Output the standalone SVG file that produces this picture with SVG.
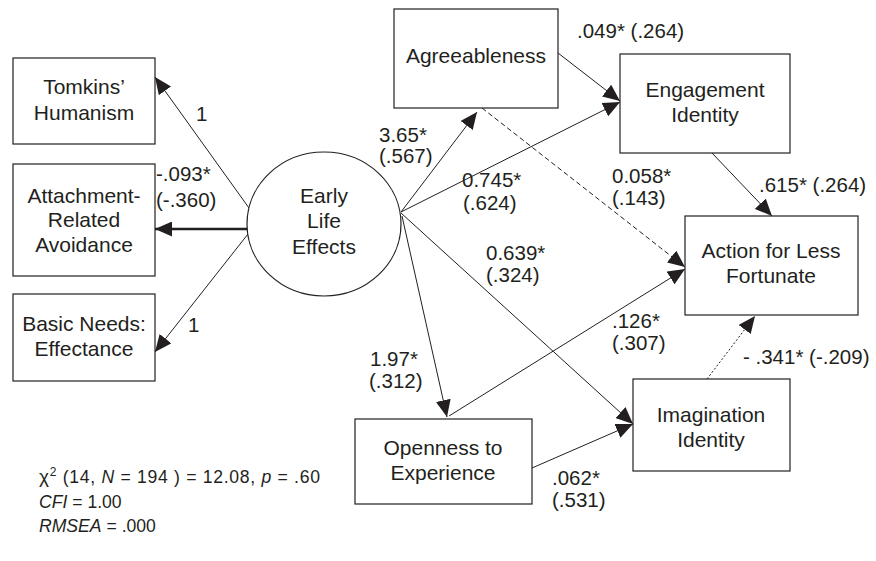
<svg xmlns="http://www.w3.org/2000/svg" width="876" height="561" viewBox="0 0 876 561">
  <style>
    .box { fill: #fff; stroke: #231f20; stroke-width: 1.2; }
    .node-text { font-family: "Liberation Sans", Arial, sans-serif; font-size: 21px; fill: #231f20; text-anchor: middle; }
    .lbl { font-family: "Liberation Sans", Arial, sans-serif; font-size: 20.5px; fill: #231f20; }
    .stat { font-family: "Liberation Sans", Arial, sans-serif; font-size: 17.6px; fill: #231f20; }
    .edge { fill: none; stroke: #231f20; stroke-width: 1; marker-end: url(#arrow); }
    .thick { stroke-width: 2.6; }
    .dashed { stroke-dasharray: 5 3; }
    .dotted { stroke-dasharray: 2 2; }
  </style>
  <defs>
    <marker id="arrow" markerUnits="userSpaceOnUse" markerWidth="18" markerHeight="15" refX="17" refY="7.5" orient="auto">
      <path d="M0,0 L17,7.5 L0,15 z" fill="#231f20"/>
    </marker>
  </defs>

  <rect width="876" height="561" fill="#fff"/>

  <!-- connectors -->
  <g id="connectors">
    <line class="edge" x1="249" y1="208" x2="155" y2="77"/>
    <line class="edge thick" x1="247" y1="229" x2="155" y2="229"/>
    <line class="edge" x1="248" y1="234" x2="155" y2="352"/>
    <line class="edge" x1="401" y1="212" x2="477" y2="112"/>
    <line class="edge" x1="401" y1="212" x2="620" y2="102"/>
    <line class="edge" x1="401" y1="213" x2="633" y2="424"/>
    <line class="edge" x1="402" y1="216" x2="447" y2="417"/>
    <line class="edge" x1="558" y1="53" x2="620" y2="101"/>
    <line class="edge dashed" x1="482" y1="108" x2="685" y2="267"/>
    <line class="edge" x1="449" y1="416" x2="685" y2="269"/>
    <line class="edge" x1="532" y1="468" x2="633" y2="424"/>
    <line class="edge" x1="712" y1="153" x2="772" y2="216"/>
    <line class="edge dotted" x1="707" y1="379" x2="755" y2="316"/>
  </g>

  <!-- nodes -->
  <g id="tomkins">
    <rect class="box" x="13" y="58" width="142" height="86"/>
    <text class="node-text" x="84" y="94">Tomkins’</text>
    <text class="node-text" x="84" y="120">Humanism</text>
  </g>
  <g id="attachment">
    <rect class="box" x="13" y="164" width="142" height="112"/>
    <text class="node-text" x="84" y="203">Attachment-</text>
    <text class="node-text" x="84" y="227">Related</text>
    <text class="node-text" x="84" y="252">Avoidance</text>
  </g>
  <g id="basic-needs">
    <rect class="box" x="13" y="294" width="142" height="87"/>
    <text class="node-text" x="84" y="331">Basic Needs:</text>
    <text class="node-text" x="84" y="356">Effectance</text>
  </g>
  <g id="early-life">
    <ellipse class="box" cx="324" cy="224" rx="77" ry="72"/>
    <text class="node-text" x="324" y="203">Early</text>
    <text class="node-text" x="324" y="228">Life</text>
    <text class="node-text" x="324" y="254">Effects</text>
  </g>
  <g id="agreeableness">
    <rect class="box" x="394" y="9" width="164" height="99"/>
    <text class="node-text" x="476" y="63">Agreeableness</text>
  </g>
  <g id="engagement">
    <rect class="box" x="620" y="54" width="170" height="99"/>
    <text class="node-text" x="705" y="97">Engagement</text>
    <text class="node-text" x="705" y="122">Identity</text>
  </g>
  <g id="action">
    <rect class="box" x="685" y="216" width="173" height="99"/>
    <text class="node-text" x="771" y="258">Action for Less</text>
    <text class="node-text" x="771" y="283">Fortunate</text>
  </g>
  <g id="imagination">
    <rect class="box" x="633" y="379" width="157" height="92"/>
    <text class="node-text" x="711" y="422">Imagination</text>
    <text class="node-text" x="711" y="447">Identity</text>
  </g>
  <g id="openness">
    <rect class="box" x="355" y="419" width="177" height="85"/>
    <text class="node-text" x="443" y="455">Openness to</text>
    <text class="node-text" x="443" y="480">Experience</text>
  </g>

  <!-- path coefficients -->
  <g id="labels">
    <text class="lbl" x="196" y="121">1</text>
    <text class="lbl" x="156" y="181">-.093*</text>
    <text class="lbl" x="156" y="207">(-.360)</text>
    <text class="lbl" x="188" y="332">1</text>
    <text class="lbl" x="379" y="142">3.65*</text>
    <text class="lbl" x="379" y="163">(.567)</text>
    <text class="lbl" x="462" y="187">0.745*</text>
    <text class="lbl" x="463" y="210">(.624)</text>
    <text class="lbl" x="612" y="183">0.058*</text>
    <text class="lbl" x="612" y="205">(.143)</text>
    <text class="lbl" x="577" y="38">.049* (.264)</text>
    <text class="lbl" x="759" y="192">.615* (.264)</text>
    <text class="lbl" x="486" y="260">0.639*</text>
    <text class="lbl" x="486" y="282">(.324)</text>
    <text class="lbl" x="612" y="328">.126*</text>
    <text class="lbl" x="612" y="350">(.307)</text>
    <text class="lbl" x="370" y="366">1.97*</text>
    <text class="lbl" x="369" y="388">(.312)</text>
    <text class="lbl" x="743" y="364">- .341* (-.209)</text>
    <text class="lbl" x="552" y="485">.062*</text>
    <text class="lbl" x="552" y="507">(.531)</text>
  </g>

  <!-- fit statistics -->
  <g id="fit">
    <text class="stat" x="39" y="483" textLength="281" lengthAdjust="spacing"><tspan font-size="19">χ</tspan><tspan font-size="12" dy="-7">2</tspan><tspan dy="7"> (14, </tspan><tspan font-style="italic">N</tspan> = 194 ) = 12.08, <tspan font-style="italic">p</tspan> = .60</text>
    <text class="stat" x="39" y="508"><tspan font-style="italic">CFI</tspan> = 1.00</text>
    <text class="stat" x="39" y="532"><tspan font-style="italic">RMSEA</tspan> = .000</text>
  </g>
</svg>
